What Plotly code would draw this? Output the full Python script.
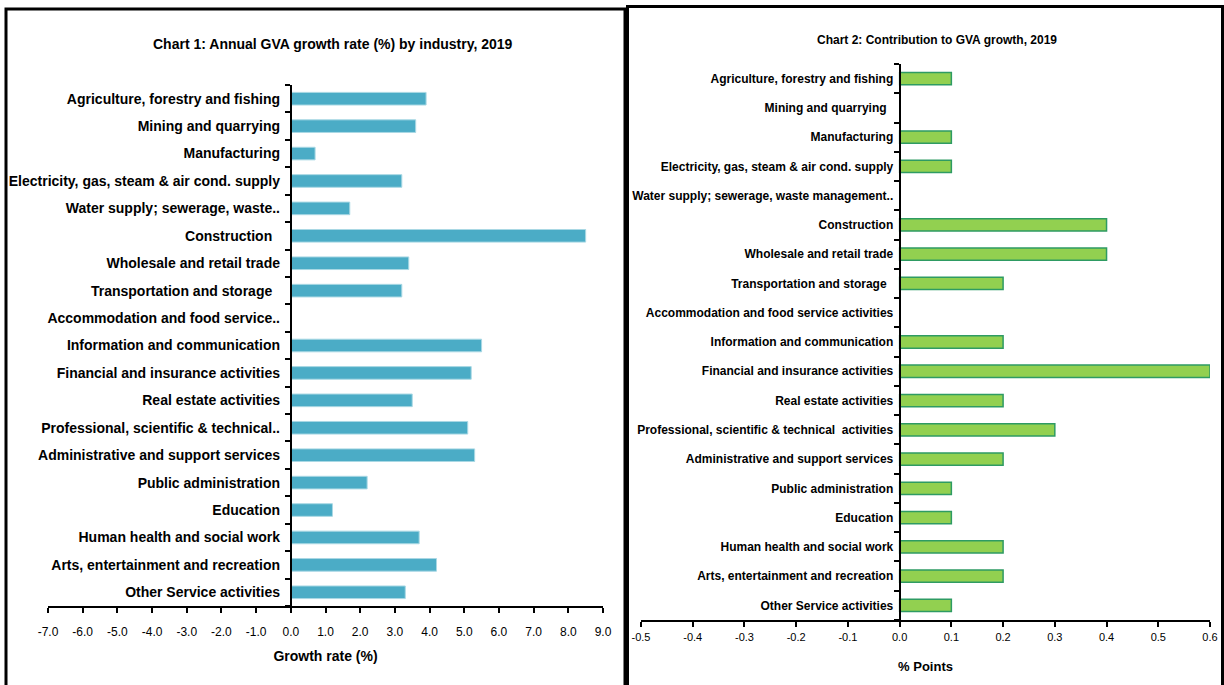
import plotly.graph_objects as go

W, H = 1224, 685

labels1 = ["Agriculture, forestry and fishing", "Mining and quarrying", "Manufacturing",
           "Electricity, gas, steam & air cond. supply", "Water supply; sewerage, waste..",
           "Construction\u00a0\u00a0", "Wholesale and retail trade", "Transportation and storage\u00a0\u00a0",
           "Accommodation and food service..", "Information and communication",
           "Financial and insurance activities", "Real estate activities",
           "Professional, scientific & technical..", "Administrative and support services",
           "Public administration", "Education", "Human health and social work",
           "Arts, entertainment and recreation", "Other Service activities"]
growth = [3.9, 3.6, 0.7, 3.2, 1.7, 8.5, 3.4, 3.2, None, 5.5, 5.2, 3.5, 5.1, 5.3, 2.2, 1.2, 3.7, 4.2, 3.3]
ticks1 = [-7.0, -6.0, -5.0, -4.0, -3.0, -2.0, -1.0, 0.0, 1.0, 2.0, 3.0, 4.0, 5.0, 6.0, 7.0, 8.0, 9.0]
ticktext1 = ["-7.0", "-6.0", "-5.0", "-4.0", "-3.0", "-2.0", "-1.0", "0.0", "1.0", "2.0", "3.0",
             "4.0", "5.0", "6.0", "7.0", "8.0", "9.0"]

labels2 = ["Agriculture, forestry and fishing", "Mining and quarrying\u00a0\u00a0", "Manufacturing",
           "Electricity, gas, steam & air cond. supply", "Water supply; sewerage, waste management..",
           "Construction", "Wholesale and retail trade", "Transportation and storage\u00a0\u00a0",
           "Accommodation and food service activities", "Information and communication",
           "Financial and insurance activities", "Real estate activities",
           "Professional, scientific & technical\u00a0 activities",
           "Administrative and support services",
           "Public administration", "Education", "Human health and social work",
           "Arts, entertainment and recreation", "Other Service activities"]
contrib = [0.1, None, 0.1, 0.1, None, 0.4, 0.4, 0.2, None, 0.2, 0.6, 0.2, 0.3, 0.2, 0.1, 0.1, 0.2, 0.2, 0.1]
ticks2 = [-0.5, -0.4, -0.3, -0.2, -0.1, 0.0, 0.1, 0.2, 0.3, 0.4, 0.5, 0.6]
ticktext2 = ["-0.5", "-0.4", "-0.3", "-0.2", "-0.1", "0.0", "0.1", "0.2", "0.3", "0.4", "0.5", "0.6"]

FONT = "Liberation Sans, Arial, sans-serif"

def px(x):
    return x / W

def py(y):
    return 1 - y / H

fig = go.Figure()
fig.add_trace(go.Bar(x=growth, y=labels1, orientation="h", xaxis="x", yaxis="y",
                     marker=dict(color="#4BACC6", line=dict(color="#A9D8E4", width=1)),
                     width=0.46, showlegend=False))
fig.add_trace(go.Bar(x=contrib, y=labels2, orientation="h", xaxis="x2", yaxis="y2",
                     marker=dict(color="#92D050", line=dict(color="#2E9B63", width=1.5)),
                     width=0.42, showlegend=False))

x1d = [px(48), px(603)]
x1r = [-7, 9]
y1pos = x1d[0] + (0 - x1r[0]) / (x1r[1] - x1r[0]) * (x1d[1] - x1d[0])
x2d = [px(641), px(1210)]
x2r = [-0.5, 0.6]
y2pos = x2d[0] + (0 - x2r[0]) / (x2r[1] - x2r[0]) * (x2d[1] - x2d[0])

axis_common = dict(showgrid=False, zeroline=False, showline=True, linecolor="black", linewidth=2,
                   ticks="outside", tickcolor="black", tickwidth=2, ticklen=5, automargin=False)

fig.update_layout(
    width=W, height=H, margin=dict(l=0, r=0, t=0, b=0, autoexpand=False),
    paper_bgcolor="white", plot_bgcolor="rgba(0,0,0,0)",
    xaxis=dict(domain=x1d, range=x1r, anchor="y", tickmode="array", tickvals=ticks1, ticktext=ticktext1,
               tickfont=dict(family=FONT, size=12, color="black"), ticklabelstandoff=9,
               title=dict(text="<b>Growth rate (%)</b>", font=dict(family=FONT, size=14, color="black"), standoff=13),
               **axis_common),
    yaxis=dict(domain=[py(606), py(85)], anchor="free", position=y1pos, type="category",
               categoryorder="array", categoryarray=labels1[::-1], tickson="boundaries",
               tickfont=dict(family=FONT, size=14, color="black"), ticklabelstandoff=7,
               tickprefix="<b>", ticksuffix="</b>",
               **axis_common),
    xaxis2=dict(domain=x2d, range=x2r, anchor="y2", tickmode="array", tickvals=ticks2, ticktext=ticktext2,
                tickfont=dict(family=FONT, size=11, color="black"), ticklabelstandoff=1,
                title=dict(text="<b>% Points</b>", font=dict(family=FONT, size=13, color="black"), standoff=20),
                **axis_common),
    yaxis2=dict(domain=[py(620), py(64)], anchor="free", position=y2pos, type="category",
                categoryorder="array", categoryarray=labels2[::-1], tickson="boundaries",
                tickfont=dict(family=FONT, size=12, color="black"), ticklabelstandoff=3,
                tickprefix="<b>", ticksuffix="</b>",
                **axis_common),
    annotations=[
        dict(text="<b>Chart 1: Annual GVA growth rate (%) by industry, 2019</b>", xref="paper", yref="paper",
             x=px(333), y=py(44), showarrow=False, xanchor="center", yanchor="middle",
             font=dict(family=FONT, size=14, color="black")),
        dict(text="<b>Chart 2: Contribution to GVA growth, 2019</b>", xref="paper", yref="paper",
             x=px(937), y=py(40), showarrow=False, xanchor="center", yanchor="middle",
             font=dict(family=FONT, size=12, color="black")),
    ],
    shapes=[
        dict(type="rect", xref="paper", yref="paper", x0=px(6), x1=px(625), y0=-0.05, y1=py(9),
             line=dict(color="black", width=3), fillcolor="rgba(0,0,0,0)"),
        dict(type="rect", xref="paper", yref="paper", x0=px(627.5), x1=px(1222.5), y0=-0.05, y1=py(6.5),
             line=dict(color="black", width=3), fillcolor="rgba(0,0,0,0)"),
    ],
)

fig.write_html("out.html")
